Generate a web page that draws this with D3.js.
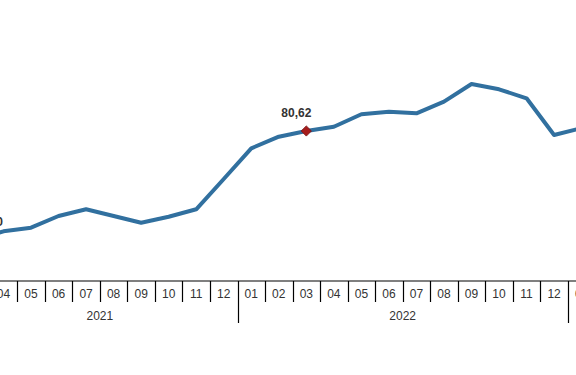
<!DOCTYPE html>
<html>
<head>
<meta charset="utf-8">
<script src="https://cdn.jsdelivr.net/npm/d3@7"></script>
<style>
  body { margin: 0; background: #fff; }
  svg { display: block; font-family: Arial, "Liberation Sans", sans-serif; }
</style>
</head>
<body>
<div id="chart"></div>
<script>
// data (monthly, starts 2021-03)
const months = ["03","04","05","06","07","08","09","10","11","12",
                "01","02","03","04","05","06","07","08","09","10","11","12",
                "01"];
const years = ["2021","2021","2021","2021","2021","2021","2021","2021","2021","2021",
               "2022","2022","2022","2022","2022","2022","2022","2022","2022","2022","2022","2022",
               "2023"];
const values = [44.30, 47.19, 48.39, 52.29, 54.52, 52.29, 50.05, 52.05, 54.52, 64.62,
                74.85, 78.72, 80.62, 82.05, 86.19, 87.05, 86.52, 90.39, 96.29, 94.52, 91.52, 79.29,
                81.59];
const labelIdx = [0, 12];      // points with value labels
const markerIdx = [12];        // highlighted point

function init(){
    const W = 576, H = 375;
    // the visible frame is a crop of a wider chart, so the plot starts left of 0
    const margin = { left: -37.8, axisY: 281 };
    const step = 27.53;

    const keys = months.map((m, i) => years[i] + "-" + m);

    const svg = d3.select("#chart")
                  .append("svg")
                  .attr("width", W)
                  .attr("height", H);

    const x = d3.scaleBand()
                .domain(keys)
                .range([margin.left, margin.left + keys.length * step])
                .padding(0);

    // y: 3px per unit, anchored at the labelled value
    const y = d3.scaleLinear()
                .domain([40, 100])
                .range([131 + 3 * (80.62 - 40), 131 - 3 * (100 - 80.62)]);

    const cx = i => x(keys[i]) + x.bandwidth() / 2;

    // axis line
    svg.append("line")
       .attr("x1", 0).attr("x2", W)
       .attr("y1", margin.axisY).attr("y2", margin.axisY)
       .attr("stroke", "#000")
       .attr("stroke-width", 1.2);

    // ticks between months, longer ones at year boundaries
    keys.forEach((k, i) => {
        if (i === 0) return;
        const newYear = years[i] !== years[i - 1];
        const tx = Math.round(x(k)) + 0.5;
        svg.append("line")
           .attr("x1", tx).attr("x2", tx)
           .attr("y1", margin.axisY)
           .attr("y2", newYear ? 323 : 302)
           .attr("stroke", "#000")
           .attr("stroke-width", 1.2);
    });

    // month labels
    svg.append("g")
       .selectAll("text")
       .data(keys)
       .enter()
       .append("text")
       .attr("x", (d, i) => cx(i))
       .attr("y", 298)
       .attr("text-anchor", "middle")
       .style("font-size", "12px")
       .style("fill", "#333")
       .text((d, i) => months[i]);

    // year labels centred over their months
    const yearGroups = d3.groups(keys.map((k, i) => ({ k, i, yr: years[i] })), d => d.yr);
    yearGroups.forEach(([yr, arr]) => {
        if (arr.length < 2) return;
        const x1 = x(arr[0].k);
        const x2 = x(arr[arr.length - 1].k) + x.bandwidth();
        svg.append("text")
           .attr("x", (x1 + x2) / 2)
           .attr("y", 320)
           .attr("text-anchor", "middle")
           .style("font-size", "12px")
           .style("fill", "#333")
           .text(yr);
    });

    // line
    const line = d3.line()
                   .x((d, i) => cx(i))
                   .y(d => y(d));

    svg.append("path")
       .datum(values)
       .attr("d", line)
       .attr("fill", "none")
       .attr("stroke", "#31709f")
       .attr("stroke-width", 4)
       .attr("stroke-linejoin", "round");

    // highlighted point
    markerIdx.forEach(i => {
        svg.append("path")
           .attr("d", d3.symbol(d3.symbolSquare, 52)())
           .attr("transform", `translate(${cx(i)}, ${y(values[i])}) rotate(45)`)
           .attr("fill", "#a51c1c")
           .attr("stroke", "#7a1010")
           .attr("stroke-width", 0.8);
    });

    // value labels
    const fmt = v => v.toFixed(2).replace(".", ",");
    labelIdx.forEach((i, n) => {
        const first = n === 0;
        svg.append("text")
           .attr("x", first ? cx(i) - 3 : cx(i) - 10)
           .attr("y", y(values[i]) - 14)
           .attr("text-anchor", first ? "start" : "middle")
           .style("font-size", "12px")
           .style("font-weight", "bold")
           .style("fill", "#333")
           .text(fmt(values[i]));
    });
}
window.onload = init;
</script>
</body>
</html>
